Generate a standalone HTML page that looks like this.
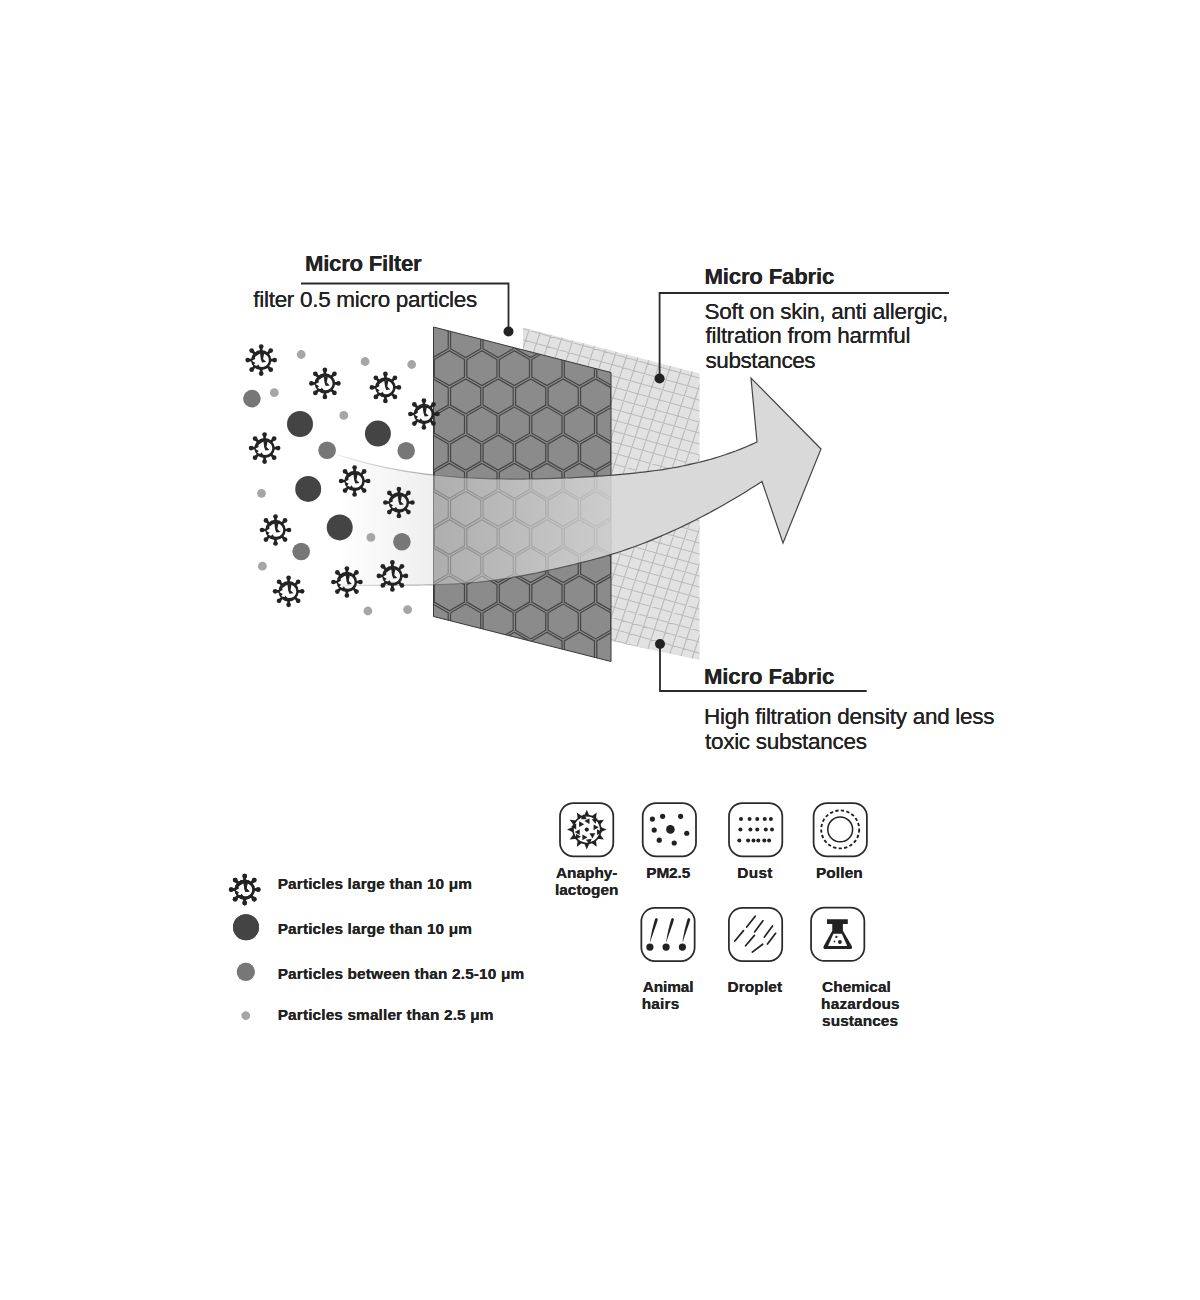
<!DOCTYPE html><html><head><meta charset="utf-8"><style>html,body{margin:0;padding:0;background:#fff;width:1200px;height:1300px;overflow:hidden;}svg{display:block;}text{font-family:"Liberation Sans",sans-serif;}</style></head><body>
<svg width="1200" height="1300" viewBox="0 0 1200 1300">
<defs>
<clipPath id="dpc"><path d="M433.5,327.0 L611.0,372.5 L611.0,661.5 L433.5,616.5Z"/></clipPath>
<clipPath id="fpc"><path d="M523.0,327.5 L699.5,373.5 L699.5,660.0 L611.0,641.0 L523.0,620.0Z"/></clipPath>
<clipPath id="arc"><path d="M337.0,454.5 L342.3,456.2 L347.6,457.8 L352.9,459.4 L358.3,460.9 L363.6,462.3 L368.9,463.7 L374.2,464.9 L379.5,466.1 L384.8,467.3 L390.2,468.4 L395.5,469.4 L400.8,470.4 L406.1,471.3 L411.4,472.1 L416.7,472.9 L422.1,473.6 L427.4,474.3 L432.7,474.9 L438.0,475.5 L443.3,476.0 L448.6,476.5 L454.0,476.9 L459.3,477.3 L464.6,477.7 L469.9,478.0 L475.2,478.2 L480.5,478.4 L485.9,478.6 L491.2,478.8 L496.5,478.9 L501.8,479.0 L507.1,479.1 L512.4,479.1 L517.8,479.1 L523.1,479.1 L528.4,479.0 L533.7,478.9 L539.0,478.8 L544.3,478.7 L549.7,478.6 L555.0,478.4 L560.3,478.2 L565.6,478.0 L570.9,477.8 L576.2,477.5 L581.6,477.2 L586.9,476.9 L592.2,476.6 L597.5,476.2 L602.8,475.9 L608.1,475.5 L613.5,475.1 L618.8,474.6 L624.1,474.1 L629.4,473.6 L634.7,473.1 L640.0,472.5 L645.4,471.9 L650.7,471.2 L656.0,470.5 L661.3,469.8 L666.6,468.9 L671.9,468.0 L677.3,467.1 L682.6,466.0 L687.9,464.9 L693.2,463.7 L698.5,462.5 L703.8,461.1 L709.2,459.7 L714.5,458.1 L719.8,456.5 L725.1,454.8 L730.4,452.9 L735.7,451.0 L741.1,448.9 L746.4,446.7 L751.7,444.4 L757.0,442.0 L751,378 L821,449 L783,543 L762.0,481.5 L756.6,485.0 L751.2,488.3 L745.9,491.7 L740.5,495.0 L735.1,498.2 L729.7,501.3 L724.3,504.4 L719.0,507.5 L713.6,510.4 L708.2,513.4 L702.8,516.2 L697.4,519.0 L692.1,521.7 L686.7,524.4 L681.3,527.0 L675.9,529.5 L670.5,531.9 L665.2,534.3 L659.8,536.6 L654.4,538.9 L649.0,541.1 L643.6,543.2 L638.3,545.2 L632.9,547.2 L627.5,549.1 L622.1,551.0 L616.7,552.7 L611.4,554.4 L606.0,556.0 L600.6,557.6 L595.2,559.0 L589.8,560.5 L584.5,561.9 L579.1,563.2 L573.7,564.5 L568.3,565.8 L562.9,567.0 L557.6,568.3 L552.2,569.5 L546.8,570.7 L541.4,571.8 L536.1,573.0 L530.7,574.1 L525.3,575.1 L519.9,576.1 L514.5,577.1 L509.2,578.0 L503.8,578.9 L498.4,579.7 L493.0,580.4 L487.6,581.1 L482.3,581.7 L476.9,582.3 L471.5,582.7 L466.1,583.2 L460.7,583.5 L455.4,583.9 L450.0,584.2 L444.6,584.4 L439.2,584.6 L433.8,584.8 L428.5,584.9 L423.1,585.0 L417.7,585.1 L412.3,585.2 L406.9,585.2 L401.6,585.3 L396.2,585.3 L390.8,585.3 L385.4,585.3 L380.0,585.3 L374.7,585.3 L369.3,585.3 L363.9,585.3 L358.5,585.3 L353.1,585.3 L347.8,585.4 L342.4,585.4 L337.0,585.5 Z"/></clipPath>
<linearGradient id="ag" gradientUnits="userSpaceOnUse" x1="337" y1="0" x2="700" y2="0"><stop offset="0" stop-color="#d9d9d9" stop-opacity="0"/><stop offset="0.27" stop-color="#d9d9d9" stop-opacity="0.45"/><stop offset="0.76" stop-color="#d9d9d9" stop-opacity="0.85"/><stop offset="0.761" stop-color="#d9d9d9" stop-opacity="1"/><stop offset="1" stop-color="#d9d9d9" stop-opacity="1"/></linearGradient>
<linearGradient id="asg" gradientUnits="userSpaceOnUse" x1="337" y1="0" x2="611" y2="0"><stop offset="0" stop-color="#444" stop-opacity="0.1"/><stop offset="1" stop-color="#444" stop-opacity="1"/></linearGradient>
<g id="vir"><path d="M9.00,0.00L13.50,0.00M6.36,6.36L9.55,9.55M0.00,9.00L0.00,13.50M-6.36,6.36L-9.55,9.55M-9.00,0.00L-13.50,0.00M-6.36,-6.36L-9.55,-9.55M-0.00,-9.00L-0.00,-13.50M6.36,-6.36L9.55,-9.55" stroke="#232323" stroke-width="2.7"/><circle cx="13.50" cy="0.00" r="2.35" fill="#232323"/><circle cx="9.55" cy="9.55" r="2.35" fill="#232323"/><circle cx="0.00" cy="13.50" r="2.35" fill="#232323"/><circle cx="-9.55" cy="9.55" r="2.35" fill="#232323"/><circle cx="-13.50" cy="0.00" r="2.35" fill="#232323"/><circle cx="-9.55" cy="-9.55" r="2.35" fill="#232323"/><circle cx="-0.00" cy="-13.50" r="2.35" fill="#232323"/><circle cx="9.55" cy="-9.55" r="2.35" fill="#232323"/><path d="M10.2,0 A10.2,10.2 0 1,1 -10.2,0 A10.2,10.2 0 1,1 10.2,0Z M0.70,-6.60 L2.50,-6.37 L4.18,-5.70 L5.61,-4.64 L6.72,-3.25 L7.41,-1.63 L7.65,0.10 L7.41,1.83 L6.72,3.45 L5.61,4.84 L4.18,5.90 L2.50,6.57 L0.70,6.80 L-1.10,6.57 L-2.77,5.90 L-5.60,5.40 L-7.40,4.60 L-5.90,2.80 L-9.40,0.70 L-6.00,-1.20 L-6.30,-3.20 L-4.21,-4.64 L-2.78,-5.70 L-1.10,-6.37Z" fill="#232323" fill-rule="evenodd"/><path d="M-1.2,-7 L3,-7 L1.9,-1 L4.9,2 L0.8,2.5 L-0.4,-0.8Z M-4.6,6.6 L-3.1,4.2 L-1.5,6.6Z" fill="#232323"/></g>
</defs>
<path d="M523.0,327.5 L699.5,373.5 L699.5,660.0 L611.0,641.0 L523.0,620.0Z" fill="#e2e2e2"/>
<g clip-path="url(#fpc)"><path d="M500.0,91.3L720.0,152.9M500.0,102.3L720.0,163.9M500.0,113.3L720.0,174.9M500.0,124.3L720.0,185.9M500.0,135.3L720.0,196.9M500.0,146.3L720.0,207.9M500.0,157.3L720.0,218.9M500.0,168.3L720.0,229.9M500.0,179.3L720.0,240.9M500.0,190.3L720.0,251.9M500.0,201.3L720.0,262.9M500.0,212.3L720.0,273.9M500.0,223.3L720.0,284.9M500.0,234.3L720.0,295.9M500.0,245.3L720.0,306.9M500.0,256.3L720.0,317.9M500.0,267.3L720.0,328.9M500.0,278.3L720.0,339.9M500.0,289.3L720.0,350.9M500.0,300.3L720.0,361.9M500.0,311.3L720.0,372.9M500.0,322.3L720.0,383.9M500.0,333.3L720.0,394.9M500.0,344.3L720.0,405.9M500.0,355.3L720.0,416.9M500.0,366.3L720.0,427.9M500.0,377.3L720.0,438.9M500.0,388.3L720.0,449.9M500.0,399.3L720.0,460.9M500.0,410.3L720.0,471.9M500.0,421.3L720.0,482.9M500.0,432.3L720.0,493.9M500.0,443.3L720.0,504.9M500.0,454.3L720.0,515.9M500.0,465.3L720.0,526.9M500.0,476.3L720.0,537.9M500.0,487.3L720.0,548.9M500.0,498.3L720.0,559.9M500.0,509.3L720.0,570.9M500.0,520.3L720.0,581.9M500.0,531.3L720.0,592.9M500.0,542.3L720.0,603.9M500.0,553.3L720.0,614.9M500.0,564.3L720.0,625.9M500.0,575.3L720.0,636.9M500.0,586.3L720.0,647.9M500.0,597.3L720.0,658.9M500.0,608.3L720.0,669.9M500.0,619.3L720.0,680.9M500.0,630.3L720.0,691.9M397.3,300.0L265.3,700.0M409.1,300.0L277.1,700.0M420.9,300.0L288.9,700.0M432.7,300.0L300.7,700.0M444.5,300.0L312.5,700.0M456.3,300.0L324.3,700.0M468.1,300.0L336.1,700.0M479.9,300.0L347.9,700.0M491.7,300.0L359.7,700.0M503.5,300.0L371.5,700.0M515.3,300.0L383.3,700.0M527.1,300.0L395.1,700.0M538.9,300.0L406.9,700.0M550.7,300.0L418.7,700.0M562.5,300.0L430.5,700.0M574.3,300.0L442.3,700.0M586.1,300.0L454.1,700.0M597.9,300.0L465.9,700.0M609.7,300.0L477.7,700.0M621.5,300.0L489.5,700.0M633.3,300.0L501.3,700.0M645.1,300.0L513.1,700.0M656.9,300.0L524.9,700.0M668.7,300.0L536.7,700.0M680.5,300.0L548.5,700.0M692.3,300.0L560.3,700.0M704.1,300.0L572.1,700.0M715.9,300.0L583.9,700.0M727.7,300.0L595.7,700.0M739.5,300.0L607.5,700.0M751.3,300.0L619.3,700.0M763.1,300.0L631.1,700.0M774.9,300.0L642.9,700.0M786.7,300.0L654.7,700.0M798.5,300.0L666.5,700.0M810.3,300.0L678.3,700.0M822.1,300.0L690.1,700.0M833.9,300.0L701.9,700.0M845.7,300.0L713.7,700.0M857.5,300.0L725.5,700.0M869.3,300.0L737.3,700.0M881.1,300.0L749.1,700.0M892.9,300.0L760.9,700.0M904.7,300.0L772.7,700.0M916.5,300.0L784.5,700.0M928.3,300.0L796.3,700.0M940.1,300.0L808.1,700.0M951.9,300.0L819.9,700.0M963.7,300.0L831.7,700.0M975.5,300.0L843.5,700.0" stroke="#bababa" stroke-width="1.1" fill="none"/></g>
<path d="M433.5,327.0 L611.0,372.5 L611.0,661.5 L433.5,616.5Z" fill="#8b8b8b"/>
<g clip-path="url(#dpc)"><path d="M416.90,294.49 L401.82,303.20 L401.82,320.62 L416.90,329.32 L431.98,320.62 L431.98,303.20Z M449.40,294.49 L434.32,303.20 L434.32,320.62 L449.40,329.32 L464.48,320.62 L464.48,303.20Z M481.90,294.49 L466.82,303.20 L466.82,320.62 L481.90,329.32 L496.98,320.62 L496.98,303.20Z M514.40,294.49 L499.32,303.20 L499.32,320.62 L514.40,329.32 L529.48,320.62 L529.48,303.20Z M546.90,294.49 L531.82,303.20 L531.82,320.62 L546.90,329.32 L561.98,320.62 L561.98,303.20Z M579.40,294.49 L564.32,303.20 L564.32,320.62 L579.40,329.32 L594.48,320.62 L594.48,303.20Z M611.90,294.49 L596.82,303.20 L596.82,320.62 L611.90,329.32 L626.98,320.62 L626.98,303.20Z M433.15,322.64 L418.07,331.35 L418.07,348.76 L433.15,357.47 L448.23,348.76 L448.23,331.35Z M465.65,322.64 L450.57,331.35 L450.57,348.76 L465.65,357.47 L480.73,348.76 L480.73,331.35Z M498.15,322.64 L483.07,331.35 L483.07,348.76 L498.15,357.47 L513.23,348.76 L513.23,331.35Z M530.65,322.64 L515.57,331.35 L515.57,348.76 L530.65,357.47 L545.73,348.76 L545.73,331.35Z M563.15,322.64 L548.07,331.35 L548.07,348.76 L563.15,357.47 L578.23,348.76 L578.23,331.35Z M595.65,322.64 L580.57,331.35 L580.57,348.76 L595.65,357.47 L610.73,348.76 L610.73,331.35Z M628.15,322.64 L613.07,331.35 L613.07,348.76 L628.15,357.47 L643.23,348.76 L643.23,331.35Z M416.90,350.79 L401.82,359.49 L401.82,376.91 L416.90,385.61 L431.98,376.91 L431.98,359.49Z M449.40,350.79 L434.32,359.49 L434.32,376.91 L449.40,385.61 L464.48,376.91 L464.48,359.49Z M481.90,350.79 L466.82,359.49 L466.82,376.91 L481.90,385.61 L496.98,376.91 L496.98,359.49Z M514.40,350.79 L499.32,359.49 L499.32,376.91 L514.40,385.61 L529.48,376.91 L529.48,359.49Z M546.90,350.79 L531.82,359.49 L531.82,376.91 L546.90,385.61 L561.98,376.91 L561.98,359.49Z M579.40,350.79 L564.32,359.49 L564.32,376.91 L579.40,385.61 L594.48,376.91 L594.48,359.49Z M611.90,350.79 L596.82,359.49 L596.82,376.91 L611.90,385.61 L626.98,376.91 L626.98,359.49Z M433.15,378.93 L418.07,387.64 L418.07,405.05 L433.15,413.76 L448.23,405.05 L448.23,387.64Z M465.65,378.93 L450.57,387.64 L450.57,405.05 L465.65,413.76 L480.73,405.05 L480.73,387.64Z M498.15,378.93 L483.07,387.64 L483.07,405.05 L498.15,413.76 L513.23,405.05 L513.23,387.64Z M530.65,378.93 L515.57,387.64 L515.57,405.05 L530.65,413.76 L545.73,405.05 L545.73,387.64Z M563.15,378.93 L548.07,387.64 L548.07,405.05 L563.15,413.76 L578.23,405.05 L578.23,387.64Z M595.65,378.93 L580.57,387.64 L580.57,405.05 L595.65,413.76 L610.73,405.05 L610.73,387.64Z M628.15,378.93 L613.07,387.64 L613.07,405.05 L628.15,413.76 L643.23,405.05 L643.23,387.64Z M416.90,407.08 L401.82,415.78 L401.82,433.20 L416.90,441.91 L431.98,433.20 L431.98,415.78Z M449.40,407.08 L434.32,415.78 L434.32,433.20 L449.40,441.91 L464.48,433.20 L464.48,415.78Z M481.90,407.08 L466.82,415.78 L466.82,433.20 L481.90,441.91 L496.98,433.20 L496.98,415.78Z M514.40,407.08 L499.32,415.78 L499.32,433.20 L514.40,441.91 L529.48,433.20 L529.48,415.78Z M546.90,407.08 L531.82,415.78 L531.82,433.20 L546.90,441.91 L561.98,433.20 L561.98,415.78Z M579.40,407.08 L564.32,415.78 L564.32,433.20 L579.40,441.91 L594.48,433.20 L594.48,415.78Z M611.90,407.08 L596.82,415.78 L596.82,433.20 L611.90,441.91 L626.98,433.20 L626.98,415.78Z M433.15,435.22 L418.07,443.93 L418.07,461.34 L433.15,470.05 L448.23,461.34 L448.23,443.93Z M465.65,435.22 L450.57,443.93 L450.57,461.34 L465.65,470.05 L480.73,461.34 L480.73,443.93Z M498.15,435.22 L483.07,443.93 L483.07,461.34 L498.15,470.05 L513.23,461.34 L513.23,443.93Z M530.65,435.22 L515.57,443.93 L515.57,461.34 L530.65,470.05 L545.73,461.34 L545.73,443.93Z M563.15,435.22 L548.07,443.93 L548.07,461.34 L563.15,470.05 L578.23,461.34 L578.23,443.93Z M595.65,435.22 L580.57,443.93 L580.57,461.34 L595.65,470.05 L610.73,461.34 L610.73,443.93Z M628.15,435.22 L613.07,443.93 L613.07,461.34 L628.15,470.05 L643.23,461.34 L643.23,443.93Z M416.90,463.37 L401.82,472.08 L401.82,489.49 L416.90,498.20 L431.98,489.49 L431.98,472.08Z M449.40,463.37 L434.32,472.08 L434.32,489.49 L449.40,498.20 L464.48,489.49 L464.48,472.08Z M481.90,463.37 L466.82,472.08 L466.82,489.49 L481.90,498.20 L496.98,489.49 L496.98,472.08Z M514.40,463.37 L499.32,472.08 L499.32,489.49 L514.40,498.20 L529.48,489.49 L529.48,472.08Z M546.90,463.37 L531.82,472.08 L531.82,489.49 L546.90,498.20 L561.98,489.49 L561.98,472.08Z M579.40,463.37 L564.32,472.08 L564.32,489.49 L579.40,498.20 L594.48,489.49 L594.48,472.08Z M611.90,463.37 L596.82,472.08 L596.82,489.49 L611.90,498.20 L626.98,489.49 L626.98,472.08Z M433.15,491.52 L418.07,500.22 L418.07,517.64 L433.15,526.34 L448.23,517.64 L448.23,500.22Z M465.65,491.52 L450.57,500.22 L450.57,517.64 L465.65,526.34 L480.73,517.64 L480.73,500.22Z M498.15,491.52 L483.07,500.22 L483.07,517.64 L498.15,526.34 L513.23,517.64 L513.23,500.22Z M530.65,491.52 L515.57,500.22 L515.57,517.64 L530.65,526.34 L545.73,517.64 L545.73,500.22Z M563.15,491.52 L548.07,500.22 L548.07,517.64 L563.15,526.34 L578.23,517.64 L578.23,500.22Z M595.65,491.52 L580.57,500.22 L580.57,517.64 L595.65,526.34 L610.73,517.64 L610.73,500.22Z M628.15,491.52 L613.07,500.22 L613.07,517.64 L628.15,526.34 L643.23,517.64 L643.23,500.22Z M416.90,519.66 L401.82,528.37 L401.82,545.78 L416.90,554.49 L431.98,545.78 L431.98,528.37Z M449.40,519.66 L434.32,528.37 L434.32,545.78 L449.40,554.49 L464.48,545.78 L464.48,528.37Z M481.90,519.66 L466.82,528.37 L466.82,545.78 L481.90,554.49 L496.98,545.78 L496.98,528.37Z M514.40,519.66 L499.32,528.37 L499.32,545.78 L514.40,554.49 L529.48,545.78 L529.48,528.37Z M546.90,519.66 L531.82,528.37 L531.82,545.78 L546.90,554.49 L561.98,545.78 L561.98,528.37Z M579.40,519.66 L564.32,528.37 L564.32,545.78 L579.40,554.49 L594.48,545.78 L594.48,528.37Z M611.90,519.66 L596.82,528.37 L596.82,545.78 L611.90,554.49 L626.98,545.78 L626.98,528.37Z M433.15,547.81 L418.07,556.51 L418.07,573.93 L433.15,582.63 L448.23,573.93 L448.23,556.51Z M465.65,547.81 L450.57,556.51 L450.57,573.93 L465.65,582.63 L480.73,573.93 L480.73,556.51Z M498.15,547.81 L483.07,556.51 L483.07,573.93 L498.15,582.63 L513.23,573.93 L513.23,556.51Z M530.65,547.81 L515.57,556.51 L515.57,573.93 L530.65,582.63 L545.73,573.93 L545.73,556.51Z M563.15,547.81 L548.07,556.51 L548.07,573.93 L563.15,582.63 L578.23,573.93 L578.23,556.51Z M595.65,547.81 L580.57,556.51 L580.57,573.93 L595.65,582.63 L610.73,573.93 L610.73,556.51Z M628.15,547.81 L613.07,556.51 L613.07,573.93 L628.15,582.63 L643.23,573.93 L643.23,556.51Z M416.90,575.95 L401.82,584.66 L401.82,602.07 L416.90,610.78 L431.98,602.07 L431.98,584.66Z M449.40,575.95 L434.32,584.66 L434.32,602.07 L449.40,610.78 L464.48,602.07 L464.48,584.66Z M481.90,575.95 L466.82,584.66 L466.82,602.07 L481.90,610.78 L496.98,602.07 L496.98,584.66Z M514.40,575.95 L499.32,584.66 L499.32,602.07 L514.40,610.78 L529.48,602.07 L529.48,584.66Z M546.90,575.95 L531.82,584.66 L531.82,602.07 L546.90,610.78 L561.98,602.07 L561.98,584.66Z M579.40,575.95 L564.32,584.66 L564.32,602.07 L579.40,610.78 L594.48,602.07 L594.48,584.66Z M611.90,575.95 L596.82,584.66 L596.82,602.07 L611.90,610.78 L626.98,602.07 L626.98,584.66Z M433.15,604.10 L418.07,612.81 L418.07,630.22 L433.15,638.93 L448.23,630.22 L448.23,612.81Z M465.65,604.10 L450.57,612.81 L450.57,630.22 L465.65,638.93 L480.73,630.22 L480.73,612.81Z M498.15,604.10 L483.07,612.81 L483.07,630.22 L498.15,638.93 L513.23,630.22 L513.23,612.81Z M530.65,604.10 L515.57,612.81 L515.57,630.22 L530.65,638.93 L545.73,630.22 L545.73,612.81Z M563.15,604.10 L548.07,612.81 L548.07,630.22 L563.15,638.93 L578.23,630.22 L578.23,612.81Z M595.65,604.10 L580.57,612.81 L580.57,630.22 L595.65,638.93 L610.73,630.22 L610.73,612.81Z M628.15,604.10 L613.07,612.81 L613.07,630.22 L628.15,638.93 L643.23,630.22 L643.23,612.81Z M416.90,632.24 L401.82,640.95 L401.82,658.37 L416.90,667.07 L431.98,658.37 L431.98,640.95Z M449.40,632.24 L434.32,640.95 L434.32,658.37 L449.40,667.07 L464.48,658.37 L464.48,640.95Z M481.90,632.24 L466.82,640.95 L466.82,658.37 L481.90,667.07 L496.98,658.37 L496.98,640.95Z M514.40,632.24 L499.32,640.95 L499.32,658.37 L514.40,667.07 L529.48,658.37 L529.48,640.95Z M546.90,632.24 L531.82,640.95 L531.82,658.37 L546.90,667.07 L561.98,658.37 L561.98,640.95Z M579.40,632.24 L564.32,640.95 L564.32,658.37 L579.40,667.07 L594.48,658.37 L594.48,640.95Z M611.90,632.24 L596.82,640.95 L596.82,658.37 L611.90,667.07 L626.98,658.37 L626.98,640.95Z M433.15,660.39 L418.07,669.10 L418.07,686.51 L433.15,695.22 L448.23,686.51 L448.23,669.10Z M465.65,660.39 L450.57,669.10 L450.57,686.51 L465.65,695.22 L480.73,686.51 L480.73,669.10Z M498.15,660.39 L483.07,669.10 L483.07,686.51 L498.15,695.22 L513.23,686.51 L513.23,669.10Z M530.65,660.39 L515.57,669.10 L515.57,686.51 L530.65,695.22 L545.73,686.51 L545.73,669.10Z M563.15,660.39 L548.07,669.10 L548.07,686.51 L563.15,695.22 L578.23,686.51 L578.23,669.10Z M595.65,660.39 L580.57,669.10 L580.57,686.51 L595.65,695.22 L610.73,686.51 L610.73,669.10Z M628.15,660.39 L613.07,669.10 L613.07,686.51 L628.15,695.22 L643.23,686.51 L643.23,669.10Z" stroke="#454545" stroke-width="1.2" fill="none"/></g>
<path d="M433.5,327.0 L611.0,372.5 L611.0,661.5 L433.5,616.5Z" fill="none" stroke="#3a3a3a" stroke-width="1"/>
<path d="M337.0,454.5 L342.3,456.2 L347.6,457.8 L352.9,459.4 L358.3,460.9 L363.6,462.3 L368.9,463.7 L374.2,464.9 L379.5,466.1 L384.8,467.3 L390.2,468.4 L395.5,469.4 L400.8,470.4 L406.1,471.3 L411.4,472.1 L416.7,472.9 L422.1,473.6 L427.4,474.3 L432.7,474.9 L438.0,475.5 L443.3,476.0 L448.6,476.5 L454.0,476.9 L459.3,477.3 L464.6,477.7 L469.9,478.0 L475.2,478.2 L480.5,478.4 L485.9,478.6 L491.2,478.8 L496.5,478.9 L501.8,479.0 L507.1,479.1 L512.4,479.1 L517.8,479.1 L523.1,479.1 L528.4,479.0 L533.7,478.9 L539.0,478.8 L544.3,478.7 L549.7,478.6 L555.0,478.4 L560.3,478.2 L565.6,478.0 L570.9,477.8 L576.2,477.5 L581.6,477.2 L586.9,476.9 L592.2,476.6 L597.5,476.2 L602.8,475.9 L608.1,475.5 L613.5,475.1 L618.8,474.6 L624.1,474.1 L629.4,473.6 L634.7,473.1 L640.0,472.5 L645.4,471.9 L650.7,471.2 L656.0,470.5 L661.3,469.8 L666.6,468.9 L671.9,468.0 L677.3,467.1 L682.6,466.0 L687.9,464.9 L693.2,463.7 L698.5,462.5 L703.8,461.1 L709.2,459.7 L714.5,458.1 L719.8,456.5 L725.1,454.8 L730.4,452.9 L735.7,451.0 L741.1,448.9 L746.4,446.7 L751.7,444.4 L757.0,442.0 L751,378 L821,449 L783,543 L762.0,481.5 L756.6,485.0 L751.2,488.3 L745.9,491.7 L740.5,495.0 L735.1,498.2 L729.7,501.3 L724.3,504.4 L719.0,507.5 L713.6,510.4 L708.2,513.4 L702.8,516.2 L697.4,519.0 L692.1,521.7 L686.7,524.4 L681.3,527.0 L675.9,529.5 L670.5,531.9 L665.2,534.3 L659.8,536.6 L654.4,538.9 L649.0,541.1 L643.6,543.2 L638.3,545.2 L632.9,547.2 L627.5,549.1 L622.1,551.0 L616.7,552.7 L611.4,554.4 L606.0,556.0 L600.6,557.6 L595.2,559.0 L589.8,560.5 L584.5,561.9 L579.1,563.2 L573.7,564.5 L568.3,565.8 L562.9,567.0 L557.6,568.3 L552.2,569.5 L546.8,570.7 L541.4,571.8 L536.1,573.0 L530.7,574.1 L525.3,575.1 L519.9,576.1 L514.5,577.1 L509.2,578.0 L503.8,578.9 L498.4,579.7 L493.0,580.4 L487.6,581.1 L482.3,581.7 L476.9,582.3 L471.5,582.7 L466.1,583.2 L460.7,583.5 L455.4,583.9 L450.0,584.2 L444.6,584.4 L439.2,584.6 L433.8,584.8 L428.5,584.9 L423.1,585.0 L417.7,585.1 L412.3,585.2 L406.9,585.2 L401.6,585.3 L396.2,585.3 L390.8,585.3 L385.4,585.3 L380.0,585.3 L374.7,585.3 L369.3,585.3 L363.9,585.3 L358.5,585.3 L353.1,585.3 L347.8,585.4 L342.4,585.4 L337.0,585.5 Z" fill="url(#ag)"/>
<path d="M337.0,454.5 L342.3,456.2 L347.6,457.8 L352.9,459.4 L358.3,460.9 L363.6,462.3 L368.9,463.7 L374.2,464.9 L379.5,466.1 L384.8,467.3 L390.2,468.4 L395.5,469.4 L400.8,470.4 L406.1,471.3 L411.4,472.1 L416.7,472.9 L422.1,473.6 L427.4,474.3 L432.7,474.9 L438.0,475.5 L443.3,476.0 L448.6,476.5 L454.0,476.9 L459.3,477.3 L464.6,477.7 L469.9,478.0 L475.2,478.2 L480.5,478.4 L485.9,478.6 L491.2,478.8 L496.5,478.9 L501.8,479.0 L507.1,479.1 L512.4,479.1 L517.8,479.1 L523.1,479.1 L528.4,479.0 L533.7,478.9 L539.0,478.8 L544.3,478.7 L549.7,478.6 L555.0,478.4 L560.3,478.2 L565.6,478.0 L570.9,477.8 L576.2,477.5 L581.6,477.2 L586.9,476.9 L592.2,476.6 L597.5,476.2 L602.8,475.9 L608.1,475.5 L613.5,475.1 L618.8,474.6 L624.1,474.1 L629.4,473.6 L634.7,473.1 L640.0,472.5 L645.4,471.9 L650.7,471.2 L656.0,470.5 L661.3,469.8 L666.6,468.9 L671.9,468.0 L677.3,467.1 L682.6,466.0 L687.9,464.9 L693.2,463.7 L698.5,462.5 L703.8,461.1 L709.2,459.7 L714.5,458.1 L719.8,456.5 L725.1,454.8 L730.4,452.9 L735.7,451.0 L741.1,448.9 L746.4,446.7 L751.7,444.4 L757.0,442.0 L751,378 L821,449 L783,543 L762.0,481.5 L756.6,485.0 L751.2,488.3 L745.9,491.7 L740.5,495.0 L735.1,498.2 L729.7,501.3 L724.3,504.4 L719.0,507.5 L713.6,510.4 L708.2,513.4 L702.8,516.2 L697.4,519.0 L692.1,521.7 L686.7,524.4 L681.3,527.0 L675.9,529.5 L670.5,531.9 L665.2,534.3 L659.8,536.6 L654.4,538.9 L649.0,541.1 L643.6,543.2 L638.3,545.2 L632.9,547.2 L627.5,549.1 L622.1,551.0 L616.7,552.7 L611.4,554.4 L606.0,556.0 L600.6,557.6 L595.2,559.0 L589.8,560.5 L584.5,561.9 L579.1,563.2 L573.7,564.5 L568.3,565.8 L562.9,567.0 L557.6,568.3 L552.2,569.5 L546.8,570.7 L541.4,571.8 L536.1,573.0 L530.7,574.1 L525.3,575.1 L519.9,576.1 L514.5,577.1 L509.2,578.0 L503.8,578.9 L498.4,579.7 L493.0,580.4 L487.6,581.1 L482.3,581.7 L476.9,582.3 L471.5,582.7 L466.1,583.2 L460.7,583.5 L455.4,583.9 L450.0,584.2 L444.6,584.4 L439.2,584.6 L433.8,584.8 L428.5,584.9 L423.1,585.0 L417.7,585.1 L412.3,585.2 L406.9,585.2 L401.6,585.3 L396.2,585.3 L390.8,585.3 L385.4,585.3 L380.0,585.3 L374.7,585.3 L369.3,585.3 L363.9,585.3 L358.5,585.3 L353.1,585.3 L347.8,585.4 L342.4,585.4 L337.0,585.5" fill="none" stroke="url(#asg)" stroke-width="1.2"/>
<circle cx="301.2" cy="354.5" r="4.4" fill="#a6a6a6"/>
<circle cx="365.1" cy="361.5" r="4.4" fill="#a6a6a6"/>
<circle cx="411.7" cy="364.5" r="4.4" fill="#a6a6a6"/>
<circle cx="274.3" cy="392.7" r="4.4" fill="#a6a6a6"/>
<circle cx="343.8" cy="415.4" r="4.4" fill="#a6a6a6"/>
<circle cx="261.5" cy="493.3" r="4.4" fill="#a6a6a6"/>
<circle cx="370.9" cy="537.4" r="4.4" fill="#a6a6a6"/>
<circle cx="262.4" cy="566.2" r="4.4" fill="#a6a6a6"/>
<circle cx="367.9" cy="611.0" r="4.4" fill="#a6a6a6"/>
<circle cx="407.6" cy="609.6" r="4.4" fill="#a6a6a6"/>
<circle cx="251.9" cy="398.6" r="8.8" fill="#777"/>
<circle cx="327.1" cy="450.2" r="8.8" fill="#777"/>
<circle cx="406.2" cy="450.8" r="8.8" fill="#777"/>
<circle cx="301.2" cy="551.5" r="8.8" fill="#777"/>
<circle cx="401.9" cy="541.7" r="8.8" fill="#777"/>
<circle cx="300.0" cy="424.0" r="13" fill="#444"/>
<circle cx="377.9" cy="433.6" r="13" fill="#444"/>
<circle cx="308.2" cy="488.9" r="13" fill="#444"/>
<circle cx="339.7" cy="527.4" r="13" fill="#444"/>
<use href="#vir" x="261.2" y="360.1"/>
<use href="#vir" x="324.9" y="383.4"/>
<use href="#vir" x="385.4" y="387.4"/>
<use href="#vir" x="423.9" y="414.0"/>
<use href="#vir" x="264.6" y="448.1"/>
<use href="#vir" x="354.6" y="481.0"/>
<use href="#vir" x="398.9" y="502.5"/>
<use href="#vir" x="275.5" y="530.0"/>
<use href="#vir" x="288.6" y="591.3"/>
<use href="#vir" x="346.9" y="582.0"/>
<use href="#vir" x="392.4" y="575.9"/>
<path d="M301,283.5 H508.5 V331.5" fill="none" stroke="#2a2a2a" stroke-width="1.8"/><circle cx="508.5" cy="331.5" r="5" fill="#222"/>
<path d="M949,293 H659.6 V378.5" fill="none" stroke="#2a2a2a" stroke-width="1.8"/><circle cx="659.6" cy="378.5" r="5" fill="#222"/>
<path d="M866.7,691 H660 V644" fill="none" stroke="#2a2a2a" stroke-width="1.8"/><circle cx="660" cy="644" r="5" fill="#222"/>
<text x="305.00" y="271.00" font-size="22.20" font-weight="bold" textLength="116.63" lengthAdjust="spacing" fill="#222">Micro Filter</text>
<text x="253.30" y="307.30" font-size="22.50" textLength="223.95" lengthAdjust="spacing" fill="#222">filter 0.5 micro particles</text>
<text x="704.50" y="284.00" font-size="22.20" font-weight="bold" textLength="129.84" lengthAdjust="spacing" fill="#222">Micro Fabric</text>
<text x="704.50" y="318.70" font-size="22.50" textLength="243.75" lengthAdjust="spacing" fill="#222">Soft on skin, anti allergic,</text>
<text x="705.50" y="343.30" font-size="22.50" textLength="205.10" lengthAdjust="spacing" fill="#222">filtration from harmful</text>
<text x="705.50" y="368.10" font-size="22.50" textLength="110.05" lengthAdjust="spacing" fill="#222">substances</text>
<text x="704.00" y="684.00" font-size="22.20" font-weight="bold" textLength="130.34" lengthAdjust="spacing" fill="#222">Micro Fabric</text>
<text x="704.00" y="724.40" font-size="22.50" textLength="290.55" lengthAdjust="spacing" fill="#222">High filtration density and less</text>
<text x="705.00" y="749.10" font-size="22.50" textLength="161.95" lengthAdjust="spacing" fill="#222">toxic substances</text>
<text x="277.70" y="888.50" font-size="15.40" font-weight="bold" textLength="194.28" lengthAdjust="spacing" fill="#222">Particles large than 10 μm</text>
<text x="277.70" y="934.20" font-size="15.40" font-weight="bold" textLength="194.28" lengthAdjust="spacing" fill="#222">Particles large than 10 μm</text>
<text x="277.70" y="978.50" font-size="15.40" font-weight="bold" textLength="246.48" lengthAdjust="spacing" fill="#222">Particles between than 2.5-10 μm</text>
<text x="277.70" y="1020.00" font-size="15.40" font-weight="bold" textLength="215.68" lengthAdjust="spacing" fill="#222">Particles smaller than 2.5 μm</text>
<text x="556.00" y="877.70" font-size="15.40" font-weight="bold" textLength="61.43" lengthAdjust="spacing" fill="#222">Anaphy-</text>
<text x="555.00" y="894.70" font-size="15.40" font-weight="bold" textLength="63.40" lengthAdjust="spacing" fill="#222">lactogen</text>
<text x="646.30" y="877.70" font-size="15.40" font-weight="bold" textLength="43.96" lengthAdjust="spacing" fill="#222">PM2.5</text>
<text x="737.30" y="877.70" font-size="15.40" font-weight="bold" textLength="35.13" lengthAdjust="spacing" fill="#222">Dust</text>
<text x="816.00" y="877.70" font-size="15.40" font-weight="bold" textLength="46.70" lengthAdjust="spacing" fill="#222">Pollen</text>
<text x="642.70" y="991.70" font-size="15.40" font-weight="bold" textLength="50.88" lengthAdjust="spacing" fill="#222">Animal</text>
<text x="641.70" y="1009.00" font-size="15.40" font-weight="bold" textLength="37.56" lengthAdjust="spacing" fill="#222">hairs</text>
<text x="727.40" y="991.70" font-size="15.40" font-weight="bold" textLength="54.73" lengthAdjust="spacing" fill="#222">Droplet</text>
<text x="822.10" y="991.60" font-size="15.40" font-weight="bold" textLength="68.68" lengthAdjust="spacing" fill="#222">Chemical</text>
<text x="821.10" y="1009.30" font-size="15.40" font-weight="bold" textLength="78.56" lengthAdjust="spacing" fill="#222">hazardous</text>
<text x="822.10" y="1026.00" font-size="15.40" font-weight="bold" textLength="75.96" lengthAdjust="spacing" fill="#222">sustances</text>
<use href="#vir" x="244.7" y="889.6"/>
<circle cx="246" cy="927.3" r="13" fill="#444"/>
<circle cx="245.8" cy="971.8" r="9" fill="#777"/>
<circle cx="245.8" cy="1015.6" r="4.2" fill="#a6a6a6"/>
<rect x="560.00" y="803.00" width="53.30" height="53.30" rx="13.5" fill="none" stroke="#2a2a2a" stroke-width="1.75"/>
<rect x="642.70" y="803.00" width="53.30" height="53.30" rx="13.5" fill="none" stroke="#2a2a2a" stroke-width="1.75"/>
<rect x="729.00" y="803.00" width="53.30" height="53.30" rx="13.5" fill="none" stroke="#2a2a2a" stroke-width="1.75"/>
<rect x="813.60" y="803.00" width="53.30" height="53.30" rx="13.5" fill="none" stroke="#2a2a2a" stroke-width="1.75"/>
<rect x="641.35" y="907.80" width="53.30" height="53.30" rx="13.5" fill="none" stroke="#2a2a2a" stroke-width="1.75"/>
<rect x="728.90" y="907.80" width="53.30" height="53.30" rx="13.5" fill="none" stroke="#2a2a2a" stroke-width="1.75"/>
<rect x="811.05" y="907.65" width="53.30" height="53.30" rx="13.5" fill="none" stroke="#2a2a2a" stroke-width="1.75"/>
<path d="M584.0,816.3 L586.8,809.8 L589.6,816.3ZM591.0,816.7 L596.7,812.5 L595.9,819.5ZM596.9,820.5 L603.9,819.7 L599.7,825.4ZM600.1,826.8 L606.6,829.6 L600.1,832.4ZM599.7,833.8 L603.9,839.5 L596.9,838.7ZM595.9,839.7 L596.7,846.7 L591.0,842.5ZM589.6,842.9 L586.8,849.4 L584.0,842.9ZM582.6,842.5 L576.9,846.7 L577.7,839.7ZM576.7,838.7 L569.7,839.5 L573.9,833.8ZM573.5,832.4 L567.0,829.6 L573.5,826.8ZM573.9,825.4 L569.7,819.7 L576.7,820.5ZM577.7,819.5 L576.9,812.5 L582.6,816.7Z" fill="#222"/>
<circle cx="586.8" cy="829.6" r="13.9" fill="none" stroke="#222" stroke-width="1.7"/>
<path d="M586.8,819.2 L581.0,819.2 L583.9,814.1ZM584.4,821.1 L589.5,818.2 L589.5,824.0ZM591.7,819.2 L597.5,818.2 L595.5,823.7ZM584.2,824.2 L579.1,827.1 L579.1,821.3ZM571.1,826.5 L576.2,823.6 L576.2,829.4ZM598.7,827.3 L593.6,830.2 L593.6,824.4ZM574.6,832.1 L579.8,829.2 L579.7,835.0ZM602.1,832.1 L597.0,835.0 L597.0,829.2ZM581.0,836.7 L575.9,839.6 L575.9,833.8ZM589.5,833.3 L595.3,833.3 L592.4,838.4ZM587.5,837.3 L582.4,840.2 L582.4,834.4ZM585.9,839.7 L591.7,838.7 L589.7,844.2Z" fill="#222"/>
<circle cx="586.8" cy="829.6" r="2.1" fill="#222"/>
<circle cx="670.40" cy="829.40" r="4.3" fill="#222"/>
<circle cx="652.40" cy="819.10" r="2.6" fill="#222"/>
<circle cx="662.60" cy="816.30" r="2.6" fill="#222"/>
<circle cx="680.60" cy="816.30" r="2.6" fill="#222"/>
<circle cx="654.20" cy="830.10" r="2.6" fill="#222"/>
<circle cx="686.75" cy="833.25" r="2.6" fill="#222"/>
<circle cx="659.25" cy="840.20" r="2.6" fill="#222"/>
<circle cx="674.20" cy="843.00" r="2.6" fill="#222"/>
<circle cx="741.00" cy="819.0" r="2" fill="#222"/>
<circle cx="749.60" cy="819.0" r="2" fill="#222"/>
<circle cx="757.25" cy="819.0" r="2" fill="#222"/>
<circle cx="764.75" cy="819.0" r="2" fill="#222"/>
<circle cx="770.90" cy="819.0" r="2" fill="#222"/>
<circle cx="740.40" cy="829.6" r="2" fill="#222"/>
<circle cx="750.40" cy="829.6" r="2" fill="#222"/>
<circle cx="757.25" cy="829.6" r="2" fill="#222"/>
<circle cx="765.80" cy="829.6" r="2" fill="#222"/>
<circle cx="772.00" cy="829.6" r="2" fill="#222"/>
<circle cx="739.30" cy="840.4" r="2" fill="#222"/>
<circle cx="748.10" cy="840.4" r="2" fill="#222"/>
<circle cx="753.50" cy="840.4" r="2" fill="#222"/>
<circle cx="758.30" cy="840.4" r="2" fill="#222"/>
<circle cx="764.30" cy="840.4" r="2" fill="#222"/>
<circle cx="769.10" cy="840.4" r="2" fill="#222"/>
<circle cx="840.2" cy="829.4" r="12.4" fill="none" stroke="#222" stroke-width="1.5"/>
<circle cx="840.2" cy="829.4" r="19" fill="none" stroke="#222" stroke-width="1.9" stroke-dasharray="3.3 2.3"/>
<circle cx="649.9" cy="947.1" r="3.6" fill="#222"/>
<path d="M650.20,942.00 L650.30,939.20 L651.95,930.80 L654.05,922.50 L655.00,919.30 Q656.50,916.6 657.80,919.60 L656.95,922.50 L654.05,930.80 L651.10,939.20 L650.50,942.00Z" fill="#222"/>
<circle cx="666.1" cy="947.1" r="3.6" fill="#222"/>
<path d="M666.40,942.00 L666.50,939.20 L668.15,930.80 L670.25,922.50 L671.20,919.30 Q672.70,916.6 674.00,919.60 L673.15,922.50 L670.25,930.80 L667.30,939.20 L666.70,942.00Z" fill="#222"/>
<circle cx="682.4" cy="947.1" r="3.6" fill="#222"/>
<path d="M682.70,942.00 L682.80,939.20 L684.45,930.80 L686.55,922.50 L687.50,919.30 Q689.00,916.6 690.30,919.60 L689.45,922.50 L686.55,930.80 L683.60,939.20 L683.00,942.00Z" fill="#222"/>
<path d="M746.7,927.1L755.2,916.2M754.6,931.9L762.9,920.8M734.8,941.0L743.5,930.6M764.4,937.1L772.5,926.0M745.6,945.8L754.4,935.4M767.5,944.0L775.6,933.3M752.3,952.1L762.7,944.2" stroke="#222" stroke-width="1.7" stroke-linecap="round"/>
<path d="M827,919.3 H847.8 V924 H842.9 V930.75 L851.9,946.3 Q852.6,949.1 850.25,949.1 H825.1 Q822.9,949.1 823.6,946.3 L832.25,930.75 V924 H827 Z M833.4,933.75 L828.1,945.9 H847.25 L841.8,933.75 Z" fill="#222" fill-rule="evenodd"/>
<circle cx="836.4" cy="936.9" r="1.15" fill="#222"/>
<circle cx="834.5" cy="941.4" r="0.85" fill="#222"/>
<circle cx="839.9" cy="942.0" r="1.90" fill="#222"/>
<text x="305.00" y="271.00" font-size="22.20" font-weight="bold" textLength="116.63" lengthAdjust="spacing" fill="#222">Micro Filter</text>
<text x="253.30" y="307.30" font-size="22.50" textLength="223.95" lengthAdjust="spacing" fill="#222">filter 0.5 micro particles</text>
<text x="704.50" y="284.00" font-size="22.20" font-weight="bold" textLength="129.84" lengthAdjust="spacing" fill="#222">Micro Fabric</text>
<text x="704.50" y="318.70" font-size="22.50" textLength="243.75" lengthAdjust="spacing" fill="#222">Soft on skin, anti allergic,</text>
<text x="705.50" y="343.30" font-size="22.50" textLength="205.10" lengthAdjust="spacing" fill="#222">filtration from harmful</text>
<text x="705.50" y="368.10" font-size="22.50" textLength="110.05" lengthAdjust="spacing" fill="#222">substances</text>
<text x="704.00" y="684.00" font-size="22.20" font-weight="bold" textLength="130.34" lengthAdjust="spacing" fill="#222">Micro Fabric</text>
<text x="704.00" y="724.40" font-size="22.50" textLength="290.55" lengthAdjust="spacing" fill="#222">High filtration density and less</text>
<text x="705.00" y="749.10" font-size="22.50" textLength="161.95" lengthAdjust="spacing" fill="#222">toxic substances</text>
<text x="277.70" y="888.50" font-size="15.40" font-weight="bold" textLength="194.28" lengthAdjust="spacing" fill="#222">Particles large than 10 μm</text>
<text x="277.70" y="934.20" font-size="15.40" font-weight="bold" textLength="194.28" lengthAdjust="spacing" fill="#222">Particles large than 10 μm</text>
<text x="277.70" y="978.50" font-size="15.40" font-weight="bold" textLength="246.48" lengthAdjust="spacing" fill="#222">Particles between than 2.5-10 μm</text>
<text x="277.70" y="1020.00" font-size="15.40" font-weight="bold" textLength="215.68" lengthAdjust="spacing" fill="#222">Particles smaller than 2.5 μm</text>
<text x="556.00" y="877.70" font-size="15.40" font-weight="bold" textLength="61.43" lengthAdjust="spacing" fill="#222">Anaphy-</text>
<text x="555.00" y="894.70" font-size="15.40" font-weight="bold" textLength="63.40" lengthAdjust="spacing" fill="#222">lactogen</text>
<text x="646.30" y="877.70" font-size="15.40" font-weight="bold" textLength="43.96" lengthAdjust="spacing" fill="#222">PM2.5</text>
<text x="737.30" y="877.70" font-size="15.40" font-weight="bold" textLength="35.13" lengthAdjust="spacing" fill="#222">Dust</text>
<text x="816.00" y="877.70" font-size="15.40" font-weight="bold" textLength="46.70" lengthAdjust="spacing" fill="#222">Pollen</text>
<text x="642.70" y="991.70" font-size="15.40" font-weight="bold" textLength="50.88" lengthAdjust="spacing" fill="#222">Animal</text>
<text x="641.70" y="1009.00" font-size="15.40" font-weight="bold" textLength="37.56" lengthAdjust="spacing" fill="#222">hairs</text>
<text x="727.40" y="991.70" font-size="15.40" font-weight="bold" textLength="54.73" lengthAdjust="spacing" fill="#222">Droplet</text>
<text x="822.10" y="991.60" font-size="15.40" font-weight="bold" textLength="68.68" lengthAdjust="spacing" fill="#222">Chemical</text>
<text x="821.10" y="1009.30" font-size="15.40" font-weight="bold" textLength="78.56" lengthAdjust="spacing" fill="#222">hazardous</text>
<text x="822.10" y="1026.00" font-size="15.40" font-weight="bold" textLength="75.96" lengthAdjust="spacing" fill="#222">sustances</text>
<use href="#vir" x="244.7" y="889.6"/>
<circle cx="246" cy="927.3" r="13" fill="#444"/>
<circle cx="245.8" cy="971.8" r="9" fill="#777"/>
<circle cx="245.8" cy="1015.6" r="4.2" fill="#a6a6a6"/>
</svg></body></html>
